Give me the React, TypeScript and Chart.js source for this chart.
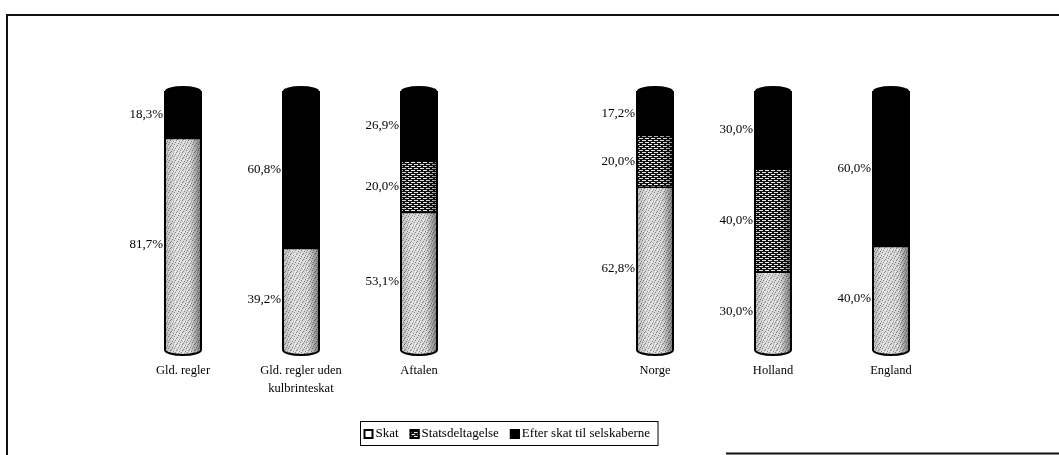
import React, { useEffect, useRef } from "react";
import { Chart, registerables } from "chart.js";

Chart.register(...registerables);

const categories: (string | string[])[] = [
  "Gld. regler",
  ["Gld. regler uden", "kulbrinteskat"],
  "Aftalen",
  "",
  "Norge",
  "Holland",
  "England",
];
const seriesNames = ["Skat", "Statsdeltagelse", "Efter skat til selskaberne"];
const skatValues = [81.7, 39.2, 53.1, null, 62.8, 30.0, 40.0];
const statsValues = [null, null, 20.0, null, 20.0, 40.0, null];
const efterValues = [18.3, 60.8, 26.9, null, 17.2, 30.0, 60.0];

const FONT = "'Liberation Serif', 'Times New Roman', serif";

function makeSkatPattern(ctx: CanvasRenderingContext2D) {
  const c = document.createElement("canvas");
  c.width = 6;
  c.height = 6;
  const g = c.getContext("2d")!;
  g.fillStyle = "#dcdcdc";
  g.fillRect(0, 0, 6, 6);
  g.fillStyle = "#8a8a8a";
  const dots = [[0, 0], [3, 1], [5, 3], [1, 4], [4, 5], [2, 2]];
  dots.forEach(([x, y]) => g.fillRect(x, y, 1, 1));
  g.fillStyle = "#f8f8f8";
  [[1, 1], [4, 3], [0, 3], [3, 4]].forEach(([x, y]) => g.fillRect(x, y, 1, 1));
  return ctx.createPattern(c, "repeat")!;
}

function makeBrickPattern(ctx: CanvasRenderingContext2D) {
  const c = document.createElement("canvas");
  c.width = 6;
  c.height = 4;
  const g = c.getContext("2d")!;
  g.fillStyle = "#111111";
  g.fillRect(0, 0, 6, 4);
  g.fillStyle = "#f0f0f0";
  g.fillRect(0, 0, 4, 1);
  g.fillRect(3, 2, 3, 1);
  g.fillRect(0, 2, 1, 1);
  return ctx.createPattern(c, "repeat")!;
}

function fmt(v: number) {
  return v.toFixed(1).replace(".", ",") + "%";
}

const cylinderPlugin = {
  id: "cylinders",
  afterDatasetsDraw(chart: any) {
    const ctx: CanvasRenderingContext2D = chart.ctx;
    const metas = chart.data.datasets.map((_: any, i: number) => chart.getDatasetMeta(i));
    const n = chart.data.labels.length;
    const ry = 5;
    for (let i = 0; i < n; i++) {
      const els: any[] = [];
      metas.forEach((m: any, di: number) => {
        const v = chart.data.datasets[di].data[i];
        if (v !== null && v !== undefined && m.data[i]) els.push(m.data[i]);
      });
      if (!els.length) continue;
      const first = els[0];
      const last = els[els.length - 1];
      const x = first.x;
      const w = first.width;
      const left = x - w / 2;
      const right = x + w / 2;
      const base = first.base;
      const top = last.y;
      ctx.save();
      ctx.beginPath();
      ctx.ellipse(x, base, w / 2, ry, 0, 0, Math.PI);
      ctx.closePath();
      ctx.fillStyle = chart.data.datasets[0].backgroundColor;
      ctx.fill();
      const grad = ctx.createLinearGradient(left, 0, right, 0);
      grad.addColorStop(0, "rgba(0,0,0,0.18)");
      grad.addColorStop(0.3, "rgba(0,0,0,0)");
      grad.addColorStop(0.7, "rgba(0,0,0,0.05)");
      grad.addColorStop(1, "rgba(0,0,0,0.45)");
      ctx.beginPath();
      ctx.moveTo(left, top);
      ctx.lineTo(left, base);
      ctx.ellipse(x, base, w / 2, ry, 0, Math.PI, 0, true);
      ctx.lineTo(right, top);
      ctx.closePath();
      ctx.fillStyle = grad;
      ctx.fill();
      ctx.beginPath();
      ctx.ellipse(x, top, w / 2, ry, 0, 0, Math.PI * 2);
      ctx.fillStyle = "#000";
      ctx.fill();
      ctx.strokeStyle = "#000";
      ctx.lineWidth = 1.5;
      for (let k = 0; k < els.length - 1; k++) {
        ctx.beginPath();
        ctx.moveTo(left, els[k].y);
        ctx.lineTo(right, els[k].y);
        ctx.stroke();
      }
      ctx.lineWidth = 2;
      ctx.beginPath();
      ctx.moveTo(left, top);
      ctx.lineTo(left, base);
      ctx.ellipse(x, base, w / 2, ry, 0, Math.PI, 0, true);
      ctx.lineTo(right, top);
      ctx.stroke();
      ctx.restore();
    }
    ctx.save();
    ctx.font = `13px ${FONT}`;
    ctx.fillStyle = "#000";
    ctx.textAlign = "right";
    ctx.textBaseline = "middle";
    metas.forEach((m: any, di: number) => {
      m.data.forEach((el: any, i: number) => {
        const v = chart.data.datasets[di].data[i];
        if (v === null || v === undefined) return;
        const yMid = (el.y + el.base) / 2;
        ctx.fillText(fmt(v), el.x - el.width / 2 - 2, yMid);
      });
    });
    ctx.restore();
  },
};

const framePlugin = {
  id: "frameAndLegend",
  afterDraw(chart: any) {
    const ctx: CanvasRenderingContext2D = chart.ctx;
    ctx.save();
    ctx.strokeStyle = "#111";
    ctx.lineWidth = 2;
    ctx.beginPath();
    ctx.moveTo(7, 455);
    ctx.lineTo(7, 15);
    ctx.lineTo(1059, 15);
    ctx.stroke();
    ctx.beginPath();
    ctx.moveTo(726, 453.5);
    ctx.lineTo(1059, 453.5);
    ctx.stroke();

    ctx.font = `13px ${FONT}`;
    const icon = 10;
    const gapIconText = 2;
    const gapItems = 11;
    const padL = 3;
    const padR = 8;
    const widths = chart.data.datasets.map((d: any) => ctx.measureText(d.label).width);
    let total = padL + padR;
    widths.forEach((tw: number, i: number) => {
      total += icon + gapIconText + tw + (i < widths.length - 1 ? gapItems : 0);
    });
    const cx = 509;
    const boxTop = 421;
    const boxH = 24;
    const boxLeft = Math.round(cx - total / 2) + 0.5;
    ctx.lineWidth = 1;
    ctx.strokeStyle = "#000";
    ctx.strokeRect(boxLeft, boxTop + 0.5, total, boxH);
    let xx = boxLeft + padL;
    const cy = boxTop + boxH / 2 + 0.5;
    chart.data.datasets.forEach((d: any, i: number) => {
      const iy = Math.round(cy - icon / 2);
      ctx.fillStyle = i === 0 ? "#fff" : d.backgroundColor;
      ctx.fillRect(xx, iy, icon, icon);
      ctx.lineWidth = 2;
      ctx.strokeStyle = "#000";
      ctx.strokeRect(xx + 1, iy + 1, icon - 2, icon - 2);
      xx += icon + gapIconText;
      ctx.fillStyle = "#000";
      ctx.textAlign = "left";
      ctx.textBaseline = "middle";
      ctx.fillText(d.label, xx, cy);
      xx += widths[i] + gapItems;
    });
    ctx.restore();
  },
};

export default function App() {
  const ref = useRef<HTMLCanvasElement | null>(null);
  useEffect(() => {
    const canvas = ref.current!;
    const ctx = canvas.getContext("2d")!;
    const skatFill = makeSkatPattern(ctx);
    const brickFill = makeBrickPattern(ctx);
    const chart = new Chart(canvas, {
      type: "bar",
      data: {
        labels: categories as any,
        datasets: [
          { label: seriesNames[0], data: skatValues as any, backgroundColor: skatFill as any, borderWidth: 0, barThickness: 36 },
          { label: seriesNames[1], data: statsValues as any, backgroundColor: brickFill as any, borderWidth: 0, barThickness: 36 },
          { label: seriesNames[2], data: efterValues as any, backgroundColor: "#000", borderWidth: 0, barThickness: 36 },
        ],
      },
      options: {
        responsive: false,
        animation: false,
        devicePixelRatio: 1,
        layout: { padding: { left: 124, right: 109, top: 91, bottom: 0 } },
        plugins: {
          legend: { display: false },
          tooltip: { enabled: false },
        },
        scales: {
          x: {
            stacked: true,
            grid: { display: false, drawTicks: false },
            border: { display: false },
            ticks: {
              color: "#000",
              font: { family: FONT, size: 12.5, lineHeight: 1.5 },
              padding: 11,
              maxRotation: 0,
              autoSkip: false,
            },
            afterFit: (scale: any) => {
              scale.height = 105;
            },
          },
          y: { stacked: true, display: false, min: 0, max: 100 },
        },
      },
      plugins: [cylinderPlugin, framePlugin],
    });
    return () => chart.destroy();
  }, []);
  return (
    <div style={{ position: "fixed", left: 0, top: 0, width: 1059, height: 455, background: "#fff" }}>
      <canvas ref={ref} width={1059} height={455} style={{ width: 1059, height: 455, display: "block" }} />
    </div>
  );
}
